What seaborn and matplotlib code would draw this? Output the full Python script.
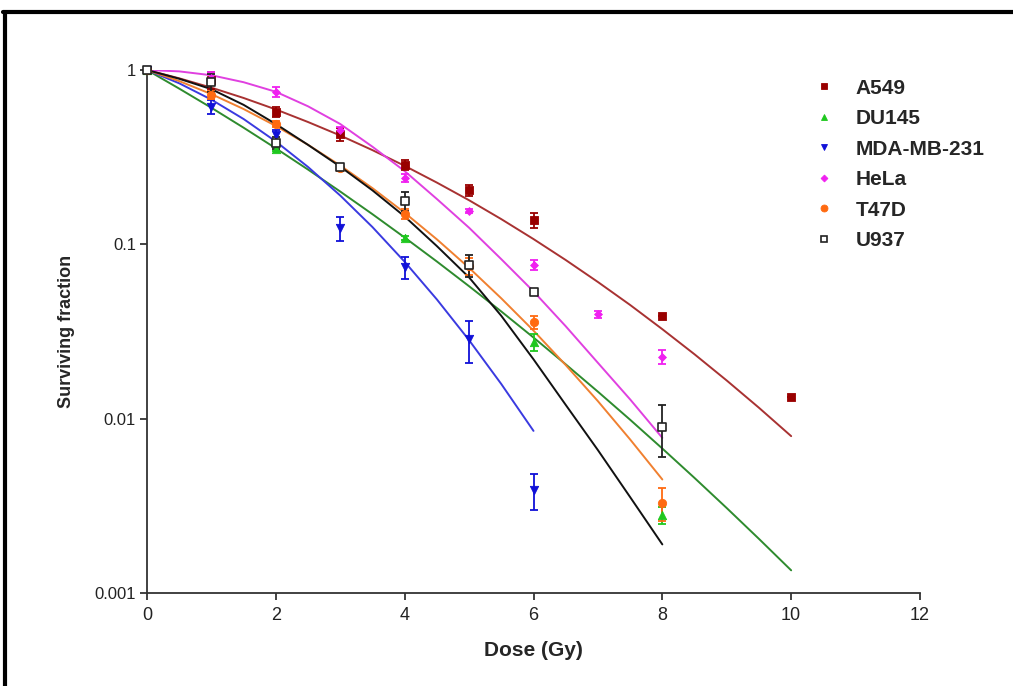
import numpy as np
import pandas as pd
import seaborn as sns
import matplotlib.pyplot as plt
from matplotlib.lines import Line2D

# measured surviving fractions (mean +/- error)
a549_dose = [0, 1, 2, 3, 4, 5, 6, 8, 10]
a549_sf = [1, 0.877, 0.576, 0.428, 0.285, 0.205, 0.138, 0.039, 0.0133]
a549_err = [0, 0.1, 0.04, 0.036, 0.018, 0.015, 0.014, 0, 0]

du145_dose = [0, 2, 4, 6, 8]
du145_sf = [1, 0.352, 0.109, 0.0274, 0.0028]
du145_err = [0, 0.01, 0.003, 0.003, 0.0003]

mda_dose = [0, 1, 2, 3, 4, 5, 6]
mda_sf = [1, 0.616, 0.424, 0.124, 0.074, 0.0286, 0.0039]
mda_err = [0, 0.06, 0.03, 0.02, 0.011, 0.0078, 0.0009]

hela_dose = [0, 1, 2, 3, 4, 5, 6, 7, 8]
hela_sf = [1, 0.9, 0.75, 0.45, 0.241, 0.155, 0.076, 0.0397, 0.0227]
hela_err = [0, 0.08, 0.05, 0.02, 0.012, 0.004, 0.005, 0.002, 0.002]

t47d_dose = [0, 1, 2, 3, 4, 5, 6, 8]
t47d_sf = [1, 0.72, 0.49, 0.274, 0.149, 0.075, 0.0357, 0.0033]
t47d_err = [0, 0.04, 0.02, 0.01, 0.01, 0.008, 0.003, 0.0007]

u937_dose = [0, 1, 2, 3, 4, 5, 6, 8]
u937_sf = [1, 0.85, 0.383, 0.279, 0.177, 0.076, 0.053, 0.009]
u937_err = [0, 0.1, 0.03, 0.01, 0.022, 0.011, 0.002, 0.003]

a549_fit = [1, 0.896, 0.792, 0.691, 0.594, 0.503, 0.421, 0.347, 0.282, 0.226, 0.179,
            0.1395, 0.1072, 0.0813, 0.0608, 0.0449, 0.0326, 0.0234, 0.01655, 0.01155, 0.00794]
du145_fit = [1, 0.782, 0.607, 0.4666, 0.3554, 0.2684, 0.2008, 0.1489, 0.1094, 0.0797, 0.0575,
             0.0412, 0.0292, 0.0205, 0.01428, 0.00986, 0.00674, 0.00457, 0.00307, 0.002044, 0.001349]
mda_fit = [1, 0.839, 0.676, 0.5233, 0.389, 0.2778, 0.1905, 0.1256, 0.0794, 0.0483, 0.0282,
           0.0158, 0.00851]
hela_fit = [1, 0.982, 0.933, 0.851, 0.750, 0.619, 0.490, 0.363, 0.263, 0.182, 0.1245,
            0.0822, 0.0537, 0.0339, 0.0209, 0.0129, 0.00776]
t47d_fit = [1, 0.864, 0.727, 0.597, 0.4777, 0.3725, 0.2833, 0.21, 0.1517, 0.1068, 0.0733,
            0.049, 0.032, 0.0203, 0.0126, 0.0076, 0.00448]
u937_fit = [1, 0.891, 0.776, 0.631, 0.490, 0.372, 0.279, 0.204, 0.1445, 0.0977, 0.0646,
            0.0389, 0.0219, 0.0120, 0.0066, 0.00355, 0.0019]

lines = ["A549", "DU145", "MDA-MB-231", "HeLa", "T47D", "U937"]

sns.set_style("ticks")
plt.rcParams['font.family'] = ['Liberation Sans', 'DejaVu Sans']

fig = plt.figure(figsize=(10.13, 6.86), dpi=100)
ax = fig.add_axes([147/1013, 1-593/686, 773/1013, 523/686])

series = [
    ("A549", a549_dose, a549_sf, a549_err, a549_fit, "s", "#990000", "#A83232", "#990000"),
    ("DU145", du145_dose, du145_sf, du145_err, du145_fit, "^", "#1FC81F", "#2E8B2E", "#1FC81F"),
    ("MDA-MB-231", mda_dose, mda_sf, mda_err, mda_fit, "v", "#1010D8", "#3A3AE0", "#1010D8"),
    ("HeLa", hela_dose, hela_sf, hela_err, hela_fit, "D", "#F020F0", "#E040E0", "#F020F0"),
    ("T47D", t47d_dose, t47d_sf, t47d_err, t47d_fit, "o", "#FF6A10", "#F08030", "#FF6A10"),
    ("U937", u937_dose, u937_sf, u937_err, u937_fit, "s", "white", "#111111", "#222222"),
]

handles = []
for name, dose, sf, err, fit, mk, mcol, lcol, ecol in series:
    fit_df = pd.DataFrame({"dose": np.arange(len(fit)) * 0.5, "sf": fit})
    sns.lineplot(data=fit_df, x="dose", y="sf", color=lcol, lw=1.4, ax=ax, zorder=2)
    ax.errorbar(dose, sf, yerr=err, fmt="none", ecolor=ecol, elinewidth=1.3,
                capsize=3, capthick=1.3, zorder=3, clip_on=False)
    ms = 6 if mk != "D" else 4
    pts = pd.DataFrame({"dose": dose, "sf": sf})
    sns.scatterplot(data=pts, x="dose", y="sf", marker=mk, color=mcol,
                    edgecolor=ecol, linewidth=1.2 if name == "U937" else 0.6,
                    s=ms**2, ax=ax, zorder=4, clip_on=False)
    handles.append(Line2D([], [], ls="none", marker=mk, markersize=5 if mk != "D" else 3.5,
                          markerfacecolor=mcol, markeredgecolor=ecol,
                          markeredgewidth=1.2 if name == "U937" else 0.6))

ax.set_yscale("log")
ax.set_xlim(0, 12)
ax.set_ylim(0.001, 1)
ax.set_xticks([0, 2, 4, 6, 8, 10, 12])
ax.set_yticks([0.001, 0.01, 0.1, 1])
ax.set_yticklabels(["0.001", "0.01", "0.1", "1"])
ax.minorticks_off()
ax.tick_params(axis="x", labelsize=13, length=5, width=1.2, colors="#222222", pad=5)
ax.tick_params(axis="y", labelsize=12, length=5, width=1.2, colors="#222222", pad=3)
for side in ["top", "right"]:
    ax.spines[side].set_visible(False)
for side in ["left", "bottom"]:
    ax.spines[side].set_linewidth(1.3)
    ax.spines[side].set_color("#333333")

ax.set_xlabel("Dose (Gy)", fontsize=15, fontweight="bold", labelpad=12)
ax.set_ylabel("Surviving fraction", fontsize=13, fontweight="bold", labelpad=14)

fig.legend(handles, lines, loc="upper left", bbox_to_anchor=(790/1013, 1-60/686),
           frameon=False, prop={"size": 15, "weight": "bold"},
           handletextpad=0.75, labelspacing=0.55, handlelength=1.5)

# screenshot frame
fig.add_artist(Line2D([3/1013, 1], [1-11.5/686, 1-11.5/686], color="black", lw=3,
                      transform=fig.transFigure))
fig.add_artist(Line2D([4.5/1013, 4.5/1013], [0, 1-11.5/686], color="black", lw=3,
                      transform=fig.transFigure))

fig.savefig("out.png", dpi=100)
